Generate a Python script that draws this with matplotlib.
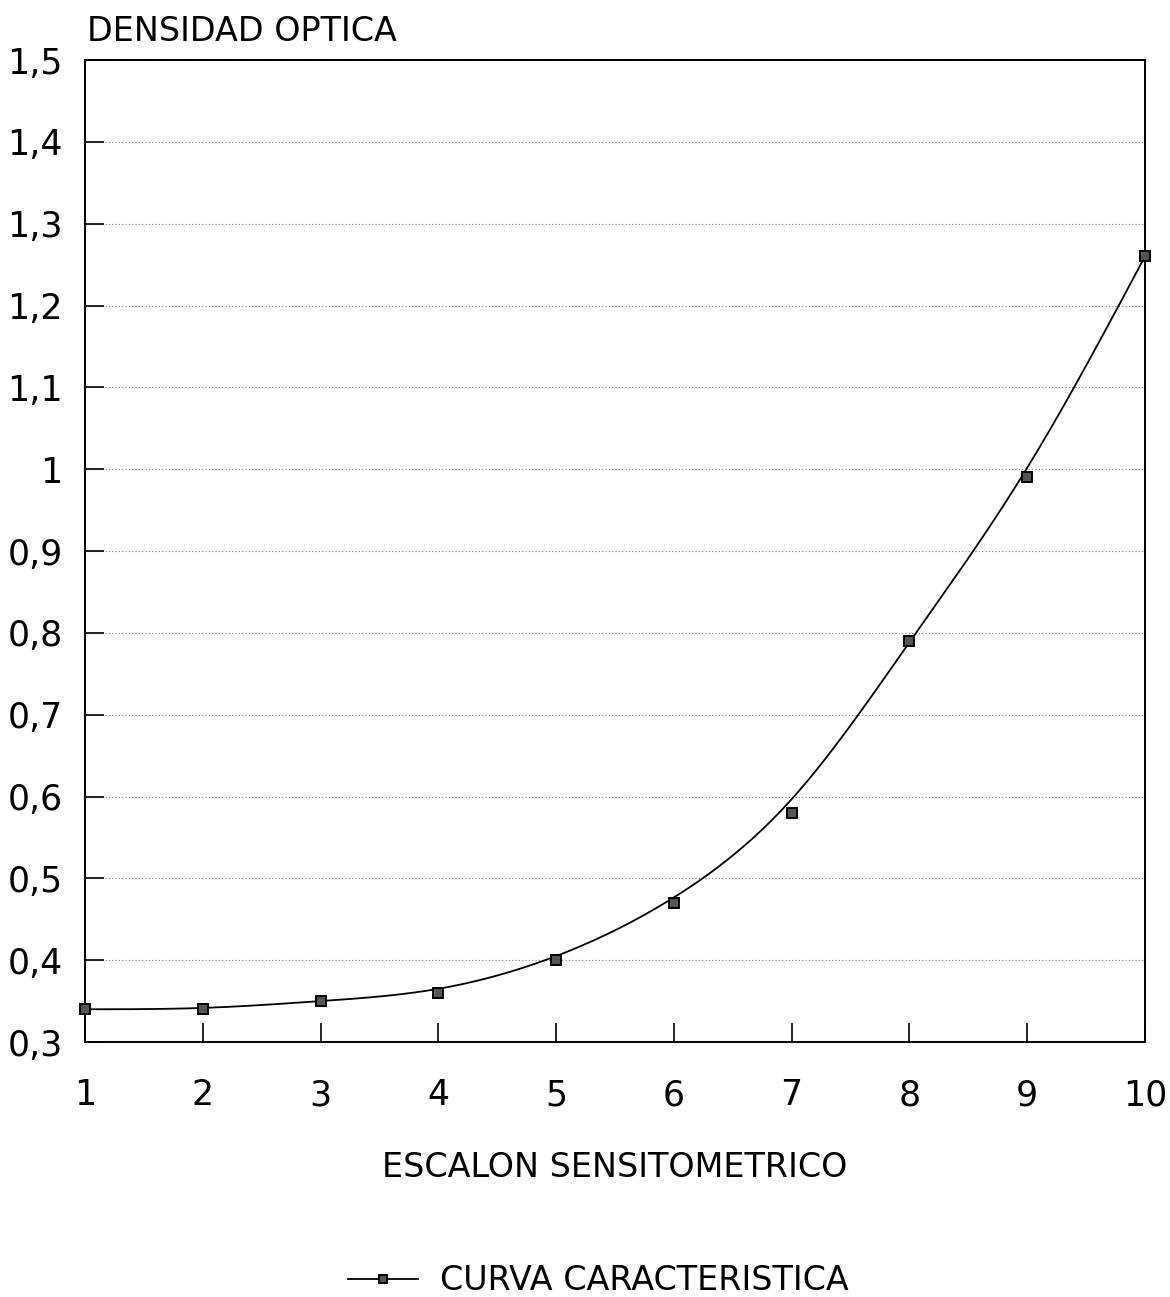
import numpy as np
import matplotlib
matplotlib.use("Agg")
import matplotlib.pyplot as plt

# ===============================
# DATOS
# ===============================
escalon = [1, 2, 3, 4, 5, 6, 7, 8, 9, 10]
densidad = [0.34, 0.34, 0.35, 0.36, 0.40, 0.47, 0.58, 0.79, 0.99, 1.26]
y_ticks = [0.3, 0.4, 0.5, 0.6, 0.7, 0.8, 0.9, 1.0, 1.1, 1.2, 1.3, 1.4, 1.5]
y_labels = ["0,3", "0,4", "0,5", "0,6", "0,7", "0,8", "0,9", "1", "1,1",
            "1,2", "1,3", "1,4", "1,5"]

plt.rcParams['font.family'] = ['DejaVu Sans']


def bspline(xp, yp, n=40):
    """B-spline cubica uniforme con los puntos como puntos de control
    (puntos fantasma reflejados para que pase por los extremos)."""
    xp = np.asarray(xp, float)
    yp = np.asarray(yp, float)
    xp = np.r_[2 * xp[0] - xp[1], xp, 2 * xp[-1] - xp[-2]]
    yp = np.r_[2 * yp[0] - yp[1], yp, 2 * yp[-1] - yp[-2]]
    t = np.linspace(0, 1, n)
    b0 = (1 - t)**3 / 6
    b1 = (3 * t**3 - 6 * t**2 + 4) / 6
    b2 = (-3 * t**3 + 3 * t**2 + 3 * t + 1) / 6
    b3 = t**3 / 6
    cx, cy = [], []
    for i in range(len(xp) - 3):
        cx.append(b0 * xp[i] + b1 * xp[i + 1] + b2 * xp[i + 2] + b3 * xp[i + 3])
        cy.append(b0 * yp[i] + b1 * yp[i + 1] + b2 * yp[i + 2] + b3 * yp[i + 3])
    return np.concatenate(cx), np.concatenate(cy)


fig = plt.figure(figsize=(11.7, 12.97), dpi=100)
ax = fig.add_axes([0.0726, 0.1966, 0.906, 0.7571])

cx, cy = bspline(escalon, densidad)
ax.plot(cx, cy, color='black', lw=1.3, zorder=3)
ax.plot(escalon, densidad, ls='none', marker='s', ms=6.5, mfc='#555555',
        mec='black', mew=1.4, zorder=4, clip_on=False)

# entrada de leyenda
ax.plot([], [], color='black', lw=1.3, marker='s', ms=6, mfc='#555555',
        mec='black', mew=1.4, label='CURVA CARACTERISTICA')

ax.set_xlim(1, 10)
ax.set_ylim(0.3, 1.5)
ax.set_xticks(escalon)
ax.set_yticks(y_ticks)
ax.set_yticklabels(y_labels)
ax.tick_params(axis='both', direction='in', length=14, width=1.2,
               labelsize=25, top=False, right=False)
ax.tick_params(axis='x', pad=26)
ax.tick_params(axis='y', pad=16)
ax.grid(axis='y', linestyle=(0, (1, 2)), color='#777777', lw=0.8)
for s in ax.spines.values():
    s.set_linewidth(1.4)

ax.set_xlabel("ESCALON SENSITOMETRICO", fontsize=24, labelpad=28)
fig.text(0.074, 0.976, "DENSIDAD OPTICA", fontsize=24, ha='left', va='center')

fig.legend(loc='center', bbox_to_anchor=(0.5115, 0.0125), frameon=False,
           fontsize=24, handlelength=2.1, handletextpad=0.65)

plt.savefig("out.png", dpi=100)
